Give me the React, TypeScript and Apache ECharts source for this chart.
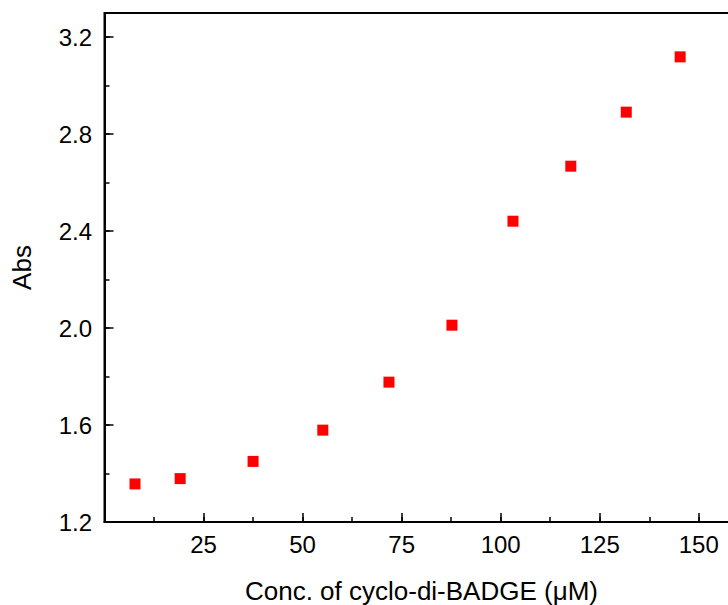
import React, { useEffect, useRef } from "react";
import * as echarts from "echarts";

const concentrations = [7.7, 19.1, 37.5, 55.1, 71.8, 87.7, 103.1, 117.7, 131.7, 145.3];
const absorbance = [1.357, 1.379, 1.45, 1.579, 1.777, 2.012, 2.441, 2.668, 2.891, 3.119];
const xName = "Conc. of cyclo-di-BADGE (μM)";
const yName = "Abs";

export default function App() {
  const ref = useRef<HTMLDivElement>(null);
  useEffect(() => {
    const chart = echarts.init(ref.current!, null, { renderer: "svg" });
    const font = "'Liberation Sans', Arial, sans-serif";
    const data = concentrations.map((x, i) => [x, absorbance[i]]);
    chart.setOption({
      animation: false,
      backgroundColor: "#fff",
      grid: {
        left: 104.5,
        top: 13,
        width: 633.9,
        height: 509,
        outerBoundsMode: "none",
        containLabel: false,
        show: true,
        borderColor: "#000",
        borderWidth: 2,
        backgroundColor: "transparent",
      },
      xAxis: [
        {
          type: "value",
          min: 0,
          max: 160,
          interval: 25,
          name: xName,
          nameLocation: "middle",
          nameGap: 56,
          nameTextStyle: { fontFamily: font, fontSize: 26, color: "#000" },
          axisLine: { show: true, lineStyle: { color: "#000", width: 2 } },
          axisTick: { show: true, inside: true, length: 9, lineStyle: { color: "#000", width: 1.5 } },
          axisLabel: {
            showMinLabel: false,
            showMaxLabel: false,
            margin: 10,
            fontFamily: font,
            fontSize: 24,
            color: "#000",
          },
          splitLine: { show: false },
        },
        {
          type: "value",
          min: 0,
          max: 160,
          interval: 12.5,
          position: "bottom",
          axisLine: { show: false },
          axisTick: { show: true, inside: true, length: 5, lineStyle: { color: "#000", width: 1.5 } },
          axisLabel: { show: false },
          splitLine: { show: false },
        },
      ],
      yAxis: [
        {
          type: "value",
          min: 1.2,
          max: 3.3,
          interval: 0.4,
          name: yName,
          nameLocation: "middle",
          nameGap: 70,
          nameTextStyle: { fontFamily: font, fontSize: 26, color: "#000" },
          axisLine: { show: true, lineStyle: { color: "#000", width: 2 } },
          axisTick: { show: true, inside: true, length: 9, lineStyle: { color: "#000", width: 1.5 } },
          axisLabel: {
            showMaxLabel: false,
            margin: 12.5,
            fontFamily: font,
            fontSize: 24,
            color: "#000",
            formatter: (v: number) => v.toFixed(1),
          },
          splitLine: { show: false },
        },
        {
          type: "value",
          min: 1.2,
          max: 3.3,
          interval: 0.2,
          position: "left",
          axisLine: { show: false },
          axisTick: { show: true, inside: true, length: 5, lineStyle: { color: "#000", width: 1.5 } },
          axisLabel: { show: false },
          splitLine: { show: false },
        },
      ],
      series: [
        {
          type: "scatter",
          xAxisIndex: 0,
          yAxisIndex: 0,
          symbol: "rect",
          symbolSize: 11,
          itemStyle: { color: "#ff0000", opacity: 1 },
          data,
        },
      ],
    });
    return () => chart.dispose();
  }, []);
  return (
    <div style={{ position: "fixed", left: 0, top: 0, width: 728, height: 605, overflow: "hidden" }}>
      <div ref={ref} style={{ width: 780, height: 605 }} />
    </div>
  );
}
